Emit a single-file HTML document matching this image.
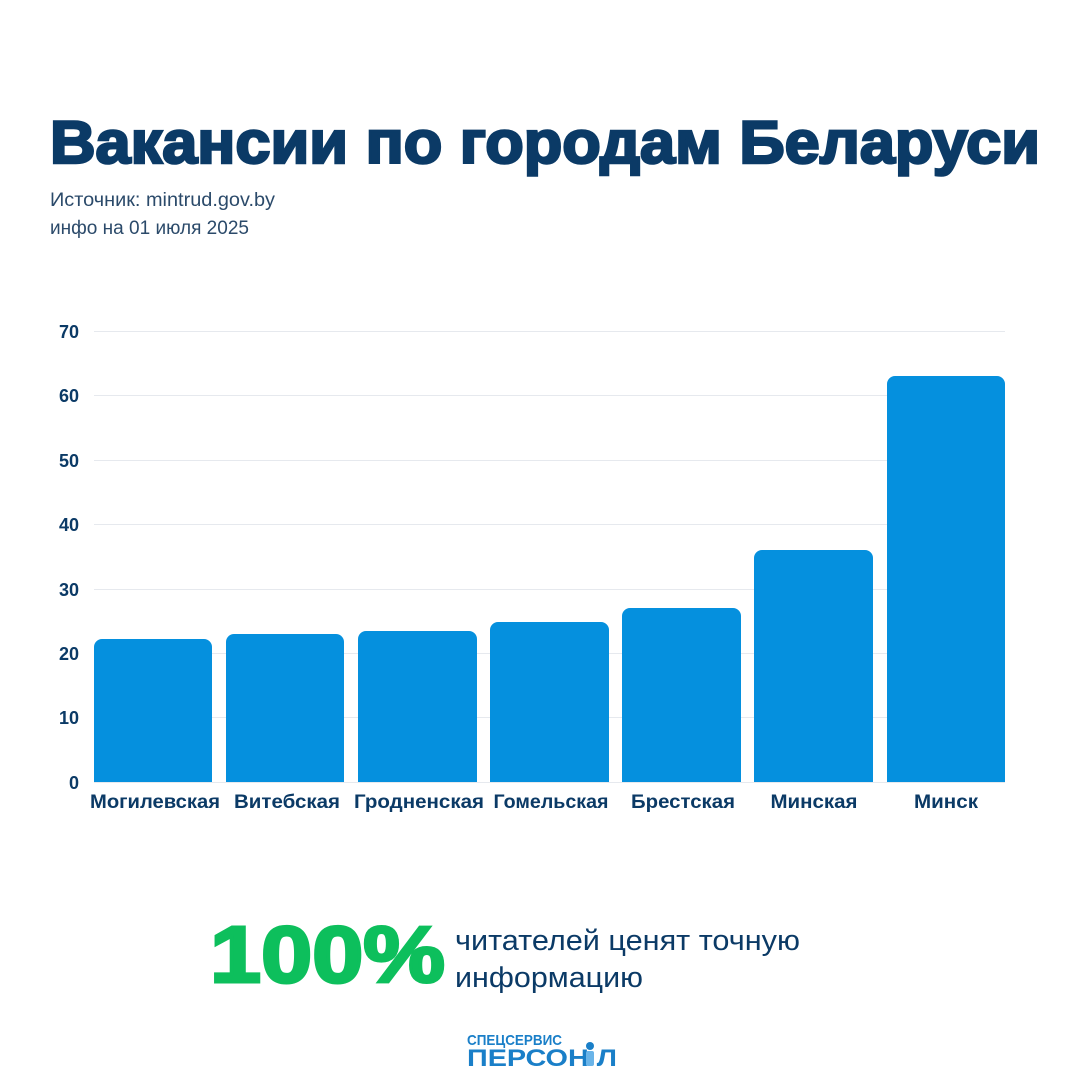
<!DOCTYPE html>
<html><head><meta charset="utf-8"><style>
body{margin:0;width:1080px;height:1080px;background:#fff;overflow:hidden;font-family:"Liberation Sans",sans-serif}
</style></head><body>
<svg width="1080" height="1080" xmlns="http://www.w3.org/2000/svg" font-family="Liberation Sans, sans-serif">
<text x="50" y="163" font-size="60" font-weight="900" fill="#0b3a66" stroke="#0b3a66" stroke-width="2.5" textLength="990" lengthAdjust="spacingAndGlyphs">Вакансии по городам Беларуси</text>
<text x="50" y="206" font-size="19" fill="#2b4a6a" textLength="225" lengthAdjust="spacingAndGlyphs">Источник: mintrud.gov.by</text>
<text x="50" y="234" font-size="19" fill="#2b4a6a" textLength="199" lengthAdjust="spacingAndGlyphs">инфо на 01 июля 2025</text>
<g stroke="#e6e9ee" stroke-width="1">
<line x1="94" x2="1005" y1="331.5" y2="331.5"/><line x1="94" x2="1005" y1="395.5" y2="395.5"/><line x1="94" x2="1005" y1="460.5" y2="460.5"/><line x1="94" x2="1005" y1="524.5" y2="524.5"/><line x1="94" x2="1005" y1="589.5" y2="589.5"/><line x1="94" x2="1005" y1="653.5" y2="653.5"/><line x1="94" x2="1005" y1="717.5" y2="717.5"/><line x1="94" x2="1005" y1="782.5" y2="782.5"/>
</g>
<g font-size="18" font-weight="bold" fill="#0b3a66" text-anchor="end">
<text x="79" y="338">70</text><text x="79" y="402">60</text><text x="79" y="467">50</text><text x="79" y="531">40</text><text x="79" y="596">30</text><text x="79" y="660">20</text><text x="79" y="724">10</text><text x="79" y="789">0</text>
</g>
<g fill="#0590de">
<path d="M94,782V647a8,8 0 0 1 8,-8H204a8,8 0 0 1 8,8V782Z"/>
<path d="M226,782V642a8,8 0 0 1 8,-8H336a8,8 0 0 1 8,8V782Z"/>
<path d="M358,782V639a8,8 0 0 1 8,-8H469a8,8 0 0 1 8,8V782Z"/>
<path d="M490,782V630a8,8 0 0 1 8,-8H601a8,8 0 0 1 8,8V782Z"/>
<path d="M622,782V616a8,8 0 0 1 8,-8H733a8,8 0 0 1 8,8V782Z"/>
<path d="M754,782V558a8,8 0 0 1 8,-8H865a8,8 0 0 1 8,8V782Z"/>
<path d="M887,782V384a8,8 0 0 1 8,-8H997a8,8 0 0 1 8,8V782Z"/>
</g>
<g font-size="19" font-weight="bold" fill="#0b3a66" text-anchor="middle" lengthAdjust="spacingAndGlyphs">
<text x="155" y="808" textLength="130" lengthAdjust="spacingAndGlyphs">Могилевская</text><text x="287" y="808" textLength="106" lengthAdjust="spacingAndGlyphs">Витебская</text><text x="419" y="808" textLength="130" lengthAdjust="spacingAndGlyphs">Гродненская</text><text x="551" y="808" textLength="115" lengthAdjust="spacingAndGlyphs">Гомельская</text><text x="683" y="808" textLength="104" lengthAdjust="spacingAndGlyphs">Брестская</text><text x="814" y="808" textLength="87" lengthAdjust="spacingAndGlyphs">Минская</text><text x="946" y="808" textLength="64" lengthAdjust="spacingAndGlyphs">Минск</text>
</g>
<text x="210" y="982" font-size="80" font-weight="900" fill="#0dbf5c" stroke="#0dbf5c" stroke-width="3" textLength="235" lengthAdjust="spacingAndGlyphs">100%</text>
<text x="455" y="950" font-size="29" fill="#0b3a66" textLength="345" lengthAdjust="spacingAndGlyphs">читателей ценят точную</text>
<text x="455" y="987" font-size="29" fill="#0b3a66" textLength="188" lengthAdjust="spacingAndGlyphs">информацию</text>
<text x="467" y="1045" font-size="15" font-weight="bold" fill="#1a7fc8" textLength="95" lengthAdjust="spacingAndGlyphs">СПЕЦСЕРВИС</text>
<text x="467" y="1066" font-size="24" font-weight="900" fill="#1a7fc8" textLength="150" lengthAdjust="spacingAndGlyphs">ПЕРСОН   Л</text>
<circle cx="590" cy="1046" r="4" fill="#1a7fc8"/>
<rect x="586" y="1051" width="8" height="15" rx="2" fill="#6ab4e8"/>
</svg>
</body></html>
